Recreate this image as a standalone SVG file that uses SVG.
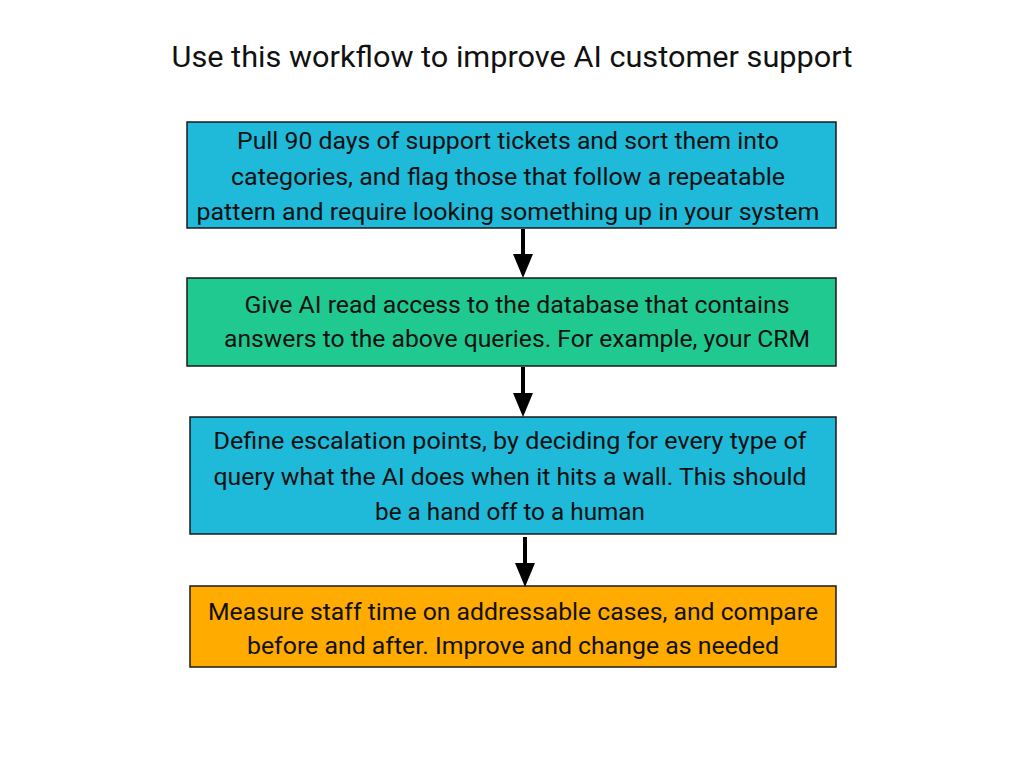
<svg xmlns="http://www.w3.org/2000/svg" width="1024" height="768" viewBox="0 0 1024 768">
<defs>
<style>
.t{font-family:Roboto,"Liberation Sans",sans-serif;font-size:24.5px;fill:#111;text-anchor:middle;dominant-baseline:central}
.title{font-family:Roboto,"Liberation Sans",sans-serif;font-size:30px;fill:#111;text-anchor:middle;dominant-baseline:central}
.box{stroke:#1a1a1a;stroke-width:1.5}
.c{stroke:#000;stroke-width:4;fill:none}
</style>
<marker id="ah" markerWidth="6" markerHeight="5" refX="3" refY="2.5" orient="auto" markerUnits="strokeWidth" viewBox="0 0 6 5">
<path d="M0,0 L6,2.5 L0,5 z" fill="#000"/>
</marker>
</defs>
<rect width="1024" height="768" fill="#fff"/>
<text class="title" x="512" y="56" textLength="681" lengthAdjust="spacingAndGlyphs">Use this workflow to improve AI customer support</text>
<g id="n1">
<rect class="box" x="187" y="122" width="649" height="106" fill="#1FB9D9"/>
<text class="t" x="508" y="140" textLength="542" lengthAdjust="spacingAndGlyphs">Pull 90 days of support tickets and sort them into</text>
<text class="t" x="508" y="176" textLength="554" lengthAdjust="spacingAndGlyphs">categories, and flag those that follow a repeatable</text>
<text class="t" x="508" y="211" textLength="623" lengthAdjust="spacingAndGlyphs">pattern and require looking something up in your system</text>
</g>
<g id="n2">
<rect class="box" x="187" y="278" width="649" height="88" fill="#20C98F"/>
<text class="t" x="517" y="304" textLength="545" lengthAdjust="spacingAndGlyphs">Give AI read access to the database that contains</text>
<text class="t" x="517" y="338" textLength="586" lengthAdjust="spacingAndGlyphs">answers to the above queries. For example, your CRM</text>
</g>
<g id="n3">
<rect class="box" x="190" y="417" width="646" height="117" fill="#1FB9D9"/>
<text class="t" x="510" y="440" textLength="593" lengthAdjust="spacingAndGlyphs">Define escalation points, by deciding for every type of</text>
<text class="t" x="510" y="476" textLength="593" lengthAdjust="spacingAndGlyphs">query what the AI does when it hits a wall. This should</text>
<text class="t" x="510" y="511" textLength="270" lengthAdjust="spacingAndGlyphs">be a hand off to a human</text>
</g>
<g id="n4">
<rect class="box" x="190" y="586" width="646" height="81" fill="#FFAB00"/>
<text class="t" x="513" y="611" textLength="610" lengthAdjust="spacingAndGlyphs">Measure staff time on addressable cases, and compare</text>
<text class="t" x="513" y="645" textLength="532" lengthAdjust="spacingAndGlyphs">before and after. Improve and change as needed</text>
</g>
<g id="connectors">
<line class="c" x1="523" y1="229" x2="523" y2="266" marker-end="url(#ah)"/>
<line class="c" x1="523" y1="367" x2="523" y2="405" marker-end="url(#ah)"/>
<line class="c" x1="525" y1="537" x2="525" y2="575" marker-end="url(#ah)"/>
</g>
</svg>
